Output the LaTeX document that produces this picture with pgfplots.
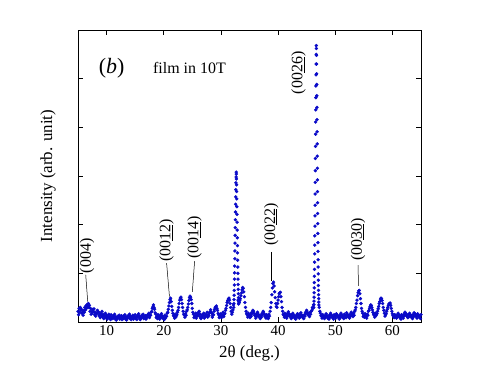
\documentclass[border=0pt]{standalone}
\usepackage{fontspec}
\setmainfont{Liberation Serif}
\usepackage{pgfplots}
\pgfplotsset{compat=1.18}
\definecolor{xrdblue}{RGB}{10,10,200}
\begin{document}
\begin{tikzpicture}
\path[use as bounding box] (-78bp,-46bp) rectangle (413bp,322bp);
\begin{axis}[
    at={(0,0)}, anchor=south west,
    scale only axis, width=343bp, height=292bp,
    xmin=5, xmax=65, ymin=0, ymax=6,
    xtick={10,20,...,60}, ytick={0,1,...,6}, yticklabels={},
    tick align=inside, major tick length=5bp,
    axis line style={line width=0.7pt}, tick style={line width=0.6pt, black},
    /pgf/number format/assume math mode=true,
    ticklabel style={font=\fontsize{15}{17}\selectfont},
    xlabel={2θ (deg.)}, ylabel={Intensity (arb. unit)},
    label style={font=\fontsize{17}{19}\selectfont},
    xlabel style={at={(axis description cs:0.5,-0.106)}, anchor=center},
    ylabel style={at={(axis description cs:-0.087,0.5)}, anchor=center},
    clip=true,
]
% baseline, even tenths
\addplot[only marks, mark=*, mark size=1.5bp, color=xrdblue] coordinates {
(5.0,0.22)(5.2,0.28)(5.4,0.30)(5.6,0.26)(5.8,0.20)(6.0,0.24)(6.2,0.30)(6.4,0.33)(6.6,0.36)(6.8,0.38)
(7.0,0.34)(7.2,0.28)(7.4,0.22)(7.6,0.26)(7.8,0.27)(8.0,0.20)(8.2,0.18)(8.4,0.24)(8.6,0.20)(8.8,0.15)
(9.0,0.18)(9.2,0.22)(9.4,0.16)(9.6,0.13)(9.8,0.18)(10.0,0.14)(10.2,0.10)(10.4,0.16)(10.6,0.12)(10.8,0.15)
(11.0,0.10)(11.2,0.13)(11.4,0.16)(11.6,0.11)(11.8,0.08)(12.0,0.12)(12.2,0.14)(12.4,0.10)(12.6,0.13)(12.8,0.09)
(13.0,0.12)(13.2,0.15)(13.4,0.11)(13.6,0.08)(13.8,0.13)(14.0,0.16)(14.2,0.12)(14.4,0.09)(14.6,0.14)(14.8,0.11)
(15.0,0.15)(15.2,0.10)(15.4,0.13)(15.6,0.17)(15.8,0.12)(16.0,0.09)(16.2,0.14)(16.4,0.16)(16.6,0.11)(16.8,0.13)
(17.0,0.10)(17.2,0.15)(17.4,0.18)(17.6,0.14)(17.8,0.20)(18.0,0.28)(18.2,0.35)(18.4,0.26)(18.6,0.16)(18.8,0.12)
(19.0,0.15)(19.2,0.10)(19.4,0.13)(19.6,0.17)(19.8,0.12)(20.0,0.09)(20.2,0.14)(20.4,0.11)(20.6,0.18)(20.8,0.26)
(21.0,0.40)(21.2,0.49)(21.4,0.32)(21.6,0.18)(21.8,0.12)(22.0,0.16)(22.2,0.13)(22.4,0.20)(22.6,0.30)(22.8,0.45)
(23.0,0.51)(23.2,0.38)(23.4,0.22)(23.6,0.14)(23.8,0.17)(24.0,0.22)(24.2,0.30)(24.4,0.44)(24.6,0.53)(24.8,0.46)
(25.0,0.28)(25.2,0.16)(25.4,0.12)(25.6,0.18)(25.8,0.14)(26.0,0.19)(26.2,0.22)(26.4,0.16)(26.6,0.11)(26.8,0.15)
(27.0,0.18)(27.2,0.13)(27.4,0.16)(27.6,0.20)(27.8,0.15)(28.0,0.19)(28.2,0.25)(28.4,0.18)(28.6,0.14)(28.8,0.22)
(29.0,0.30)(29.2,0.33)(29.4,0.24)(29.6,0.15)(29.8,0.12)(30.0,0.17)(30.2,0.14)(30.4,0.20)(30.6,0.16)(30.8,0.24)
(31.0,0.34)(31.2,0.44)(31.4,0.49)(31.6,0.38)(31.8,0.22)(32.0,0.20)(32.2,0.35)
(33.0,0.45)(33.2,0.40)(33.4,0.48)(33.6,0.60)(33.8,0.71)(34.0,0.62)(34.2,0.40)(34.4,0.22)(34.6,0.15)(34.8,0.18)
(35.0,0.13)(35.2,0.16)(35.4,0.20)(35.6,0.24)(35.8,0.18)(36.0,0.13)(36.2,0.16)(36.4,0.20)(36.6,0.15)(36.8,0.11)
(37.0,0.14)(37.2,0.18)(37.4,0.22)(37.6,0.16)(37.8,0.12)(38.0,0.15)(38.2,0.11)(38.4,0.16)(38.6,0.22)(38.8,0.40)
(39.0,0.70)(39.2,0.82)(39.4,0.62)(39.6,0.38)(39.8,0.30)(40.0,0.45)(40.2,0.58)(40.4,0.61)(40.6,0.42)(40.8,0.22)
(41.0,0.14)(41.2,0.18)(41.4,0.13)(41.6,0.17)(41.8,0.21)(42.0,0.16)(42.2,0.12)(42.4,0.15)(42.6,0.18)(42.8,0.13)
(43.0,0.10)(43.2,0.14)(43.4,0.17)(43.6,0.12)(43.8,0.15)(44.0,0.19)(44.2,0.14)(44.4,0.11)(44.6,0.15)(44.8,0.20)
(45.0,0.24)(45.2,0.18)(45.4,0.15)(45.6,0.20)(45.8,0.22)(46.0,0.30)(46.2,0.35)
(47.2,0.30)(47.4,0.18)(47.6,0.12)(47.8,0.15)(48.0,0.10)(48.2,0.13)(48.4,0.17)(48.6,0.12)(48.8,0.09)
(49.0,0.14)(49.2,0.18)(49.4,0.13)(49.6,0.10)(49.8,0.15)(50.0,0.12)(50.2,0.17)(50.4,0.14)(50.6,0.10)(50.8,0.13)
(51.0,0.18)(51.2,0.14)(51.4,0.11)(51.6,0.16)(51.8,0.13)(52.0,0.19)(52.2,0.15)(52.4,0.12)(52.6,0.16)(52.8,0.20)
(53.0,0.15)(53.2,0.18)(53.4,0.22)(53.6,0.30)(53.8,0.45)(54.0,0.60)(54.2,0.65)(54.4,0.48)(54.6,0.28)(54.8,0.18)
(55.0,0.14)(55.2,0.17)(55.4,0.12)(55.6,0.16)(55.8,0.22)(56.0,0.28)(56.2,0.35)(56.4,0.30)(56.6,0.20)(56.8,0.14)
(57.0,0.18)(57.2,0.15)(57.4,0.22)(57.6,0.32)(57.8,0.42)(58.0,0.49)(58.2,0.44)(58.4,0.30)(58.6,0.18)(58.8,0.15)
(59.0,0.22)(59.2,0.30)(59.4,0.37)(59.6,0.39)(59.8,0.28)(60.0,0.17)(60.2,0.12)(60.4,0.15)(60.6,0.11)(60.8,0.14)
(61.0,0.18)(61.2,0.13)(61.4,0.10)(61.6,0.15)(61.8,0.12)(62.0,0.16)(62.2,0.20)(62.4,0.17)(62.6,0.13)(62.8,0.15)
(63.0,0.18)(63.2,0.14)(63.4,0.11)(63.6,0.15)(63.8,0.19)(64.0,0.16)(64.2,0.12)(64.4,0.17)(64.6,0.14)(64.8,0.11)
(65.0,0.15)
};
% baseline, odd tenths
\addplot[only marks, mark=*, mark size=1.5bp, color=xrdblue] coordinates {
(5.1,0.15)(5.3,0.20)(5.5,0.24)(5.7,0.18)(5.9,0.14)(6.1,0.20)(6.3,0.25)(6.5,0.28)(6.7,0.31)(6.9,0.30)
(7.1,0.22)(7.3,0.16)(7.5,0.19)(7.7,0.22)(7.9,0.15)(8.1,0.12)(8.3,0.17)(8.5,0.21)(8.7,0.13)(8.9,0.09)
(9.1,0.14)(9.3,0.11)(9.5,0.07)(9.7,0.12)(9.9,0.09)(10.1,0.06)(10.3,0.11)(10.5,0.08)(10.7,0.05)(10.9,0.09)
(11.1,0.07)(11.3,0.10)(11.5,0.06)(11.7,0.04)(11.9,0.08)(12.1,0.10)(12.3,0.06)(12.5,0.09)(12.7,0.05)(12.9,0.07)
(13.1,0.10)(13.3,0.06)(13.5,0.04)(13.7,0.08)(13.9,0.11)(14.1,0.07)(14.3,0.05)(14.5,0.09)(14.7,0.06)(14.9,0.10)
(15.1,0.07)(15.3,0.05)(15.5,0.11)(15.7,0.08)(15.9,0.05)(16.1,0.09)(16.3,0.12)(16.5,0.07)(16.7,0.09)(16.9,0.06)
(17.1,0.10)(17.3,0.13)(17.5,0.09)(17.7,0.14)(17.9,0.22)(18.1,0.31)(18.3,0.30)(18.5,0.19)(18.7,0.09)(18.9,0.07)
(19.1,0.11)(19.3,0.06)(19.5,0.09)(19.7,0.12)(19.9,0.07)(20.1,0.05)(20.3,0.08)(20.5,0.12)(20.7,0.20)(20.9,0.33)
(21.1,0.46)(21.3,0.42)(21.5,0.24)(21.7,0.13)(21.9,0.08)(22.1,0.10)(22.3,0.15)(22.5,0.24)(22.7,0.38)(22.9,0.49)
(23.1,0.46)(23.3,0.30)(23.5,0.16)(23.7,0.10)(23.9,0.14)(24.1,0.25)(24.3,0.37)(24.5,0.50)(24.7,0.51)(24.9,0.38)
(25.1,0.20)(25.3,0.09)(25.5,0.12)(25.7,0.08)(25.9,0.13)(26.1,0.16)(26.3,0.11)(26.5,0.07)(26.7,0.10)(26.9,0.13)
(27.1,0.08)(27.3,0.11)(27.5,0.14)(27.7,0.10)(27.9,0.13)(28.1,0.21)(28.3,0.20)(28.5,0.10)(28.7,0.15)(28.9,0.26)
(29.1,0.31)(29.3,0.28)(29.5,0.18)(29.7,0.09)(29.9,0.12)(30.1,0.09)(30.3,0.14)(30.5,0.11)(30.7,0.18)(30.9,0.28)
(31.1,0.40)(31.3,0.47)(31.5,0.45)(31.7,0.30)(31.9,0.16)(32.1,0.25)
(33.1,0.38)(33.3,0.44)(33.5,0.54)(33.7,0.66)(33.9,0.69)(34.1,0.52)(34.3,0.30)(34.5,0.17)(34.7,0.10)(34.9,0.13)
(35.1,0.09)(35.3,0.12)(35.5,0.18)(35.7,0.22)(35.9,0.14)(36.1,0.08)(36.3,0.12)(36.5,0.16)(36.7,0.10)(36.9,0.07)
(37.1,0.10)(37.3,0.15)(37.5,0.18)(37.7,0.11)(37.9,0.08)(38.1,0.10)(38.3,0.07)(38.5,0.12)(38.7,0.30)(38.9,0.56)
(39.1,0.79)(39.3,0.74)(39.5,0.50)(39.7,0.32)(39.9,0.38)(40.1,0.52)(40.3,0.60)(40.5,0.52)(40.7,0.30)(40.9,0.16)
(41.1,0.10)(41.3,0.13)(41.5,0.08)(41.7,0.12)(41.9,0.16)(42.1,0.11)(42.3,0.07)(42.5,0.10)(42.7,0.14)(42.9,0.08)
(43.1,0.06)(43.3,0.10)(43.5,0.13)(43.7,0.08)(43.9,0.11)(44.1,0.14)(44.3,0.09)(44.5,0.07)(44.7,0.12)(44.9,0.17)
(45.1,0.20)(45.3,0.14)(45.5,0.11)(45.7,0.16)(45.9,0.24)(46.1,0.28)
(47.3,0.22)(47.5,0.13)(47.7,0.08)(47.9,0.11)(48.1,0.07)(48.3,0.10)(48.5,0.13)(48.7,0.08)(48.9,0.06)
(49.1,0.10)(49.3,0.14)(49.5,0.09)(49.7,0.06)(49.9,0.11)(50.1,0.08)(50.3,0.13)(50.5,0.10)(50.7,0.06)(50.9,0.09)
(51.1,0.14)(51.3,0.10)(51.5,0.07)(51.7,0.12)(51.9,0.09)(52.1,0.15)(52.3,0.11)(52.5,0.08)(52.7,0.12)(52.9,0.16)
(53.1,0.11)(53.3,0.14)(53.5,0.25)(53.7,0.38)(53.9,0.54)(54.1,0.64)(54.3,0.58)(54.5,0.38)(54.7,0.22)(54.9,0.11)
(55.1,0.10)(55.3,0.13)(55.5,0.08)(55.7,0.14)(55.9,0.24)(56.1,0.32)(56.3,0.34)(56.5,0.25)(56.7,0.16)(56.9,0.10)
(57.1,0.13)(57.3,0.17)(57.5,0.27)(57.7,0.38)(57.9,0.47)(58.1,0.48)(58.3,0.38)(58.5,0.24)(58.7,0.12)(58.9,0.17)
(59.1,0.26)(59.3,0.34)(59.5,0.38)(59.7,0.34)(59.9,0.22)(60.1,0.13)(60.3,0.09)(60.5,0.12)(60.7,0.08)(60.9,0.11)
(61.1,0.14)(61.3,0.09)(61.5,0.06)(61.7,0.11)(61.9,0.08)(62.1,0.13)(62.3,0.16)(62.5,0.12)(62.7,0.09)(62.9,0.11)
(63.1,0.14)(63.3,0.10)(63.5,0.07)(63.7,0.11)(63.9,0.15)(64.1,0.12)(64.3,0.08)(64.5,0.13)(64.7,0.10)(64.9,0.07)
};
% peak near 32.7
\addplot[only marks, mark=*, mark size=1.5bp, color=xrdblue] coordinates {
(32.25,0.30)(32.27,0.38)(32.29,0.46)(32.31,0.55)(32.33,0.65)(32.35,0.76)(32.37,0.88)(32.39,1.01)(32.41,1.15)(32.43,1.30)(32.45,1.46)
(32.47,1.62)(32.49,1.78)(32.51,1.94)(32.53,2.10)(32.55,2.26)(32.57,2.42)(32.59,2.57)(32.61,2.72)(32.63,2.86)(32.65,2.98)(32.67,3.08)
(32.69,3.04)(32.71,2.94)(32.73,2.82)(32.75,2.68)(32.77,2.53)(32.79,2.37)(32.81,2.21)(32.83,2.05)(32.85,1.89)(32.87,1.73)(32.89,1.57)
(32.91,1.42)(32.93,1.27)(32.95,1.13)(32.97,1.00)(32.99,0.88)(33.01,0.77)(33.03,0.67)(33.05,0.58)(33.07,0.50)(33.09,0.43)(33.11,0.37)
};
% peak near 46.7
\addplot[only marks, mark=*, mark size=1.5bp, color=xrdblue] coordinates {
(46.250,0.30)(46.265,0.36)(46.280,0.43)(46.295,0.51)(46.310,0.60)(46.325,0.70)(46.340,0.81)(46.355,0.94)(46.370,1.08)(46.385,1.23)
(46.400,1.40)(46.415,1.58)(46.430,1.77)(46.445,1.97)(46.460,2.18)(46.475,2.40)(46.490,2.63)(46.505,2.87)(46.520,3.11)(46.535,3.36)
(46.550,3.61)(46.565,3.86)(46.580,4.11)(46.595,4.36)(46.610,4.61)(46.625,4.85)(46.640,5.08)(46.655,5.30)(46.670,5.50)(46.685,5.68)
(46.700,5.62)(46.715,5.48)(46.730,5.30)(46.745,5.10)(46.760,4.88)(46.775,4.65)(46.790,4.41)(46.805,4.16)(46.820,3.91)(46.835,3.66)
(46.850,3.41)(46.865,3.16)(46.880,2.92)(46.895,2.68)(46.910,2.45)(46.925,2.23)(46.940,2.02)(46.955,1.82)(46.970,1.63)(46.985,1.45)
(47.000,1.28)(47.015,1.13)(47.030,0.99)(47.045,0.86)(47.060,0.75)(47.075,0.65)(47.090,0.56)(47.105,0.48)(47.120,0.41)(47.135,0.35)
};
% annotations
\node[font=\fontsize{22}{24}\selectfont] at (axis cs:10.9,5.22) {(\textit{b})};
\node[font=\fontsize{16}{18}\selectfont] at (axis cs:24.5,5.22) {film in 10T};
\begin{scope}[every node/.style={font=\fontsize{16}{18}\selectfont, rotate=90, anchor=west, inner sep=1pt}]
\node at (axis cs:6.6,0.98) {(004)};
\node at (axis cs:20.5,1.21) {(00\underline{12})};
\node at (axis cs:25.4,1.27) {(00\underline{14})};
\node at (axis cs:38.8,1.54) {(00\underline{22})};
\node at (axis cs:43.6,4.66) {(00\underline{26})};
\node at (axis cs:54.0,1.23) {(00\underline{30})};
\end{scope}
\draw[line width=0.5pt] (axis cs:6.35,0.97) -- (axis cs:6.7,0.42);
\draw[line width=0.5pt] (axis cs:20.5,1.21) -- (axis cs:21.0,0.52);
\draw[line width=0.5pt] (axis cs:25.4,1.25) -- (axis cs:25.0,0.62);
\draw[line width=0.5pt] (axis cs:38.75,1.44) -- (axis cs:38.75,0.85);
\draw[line width=0.5pt] (axis cs:54.0,1.17) -- (axis cs:54.05,0.74);
\end{axis}
\end{tikzpicture}
\end{document}
